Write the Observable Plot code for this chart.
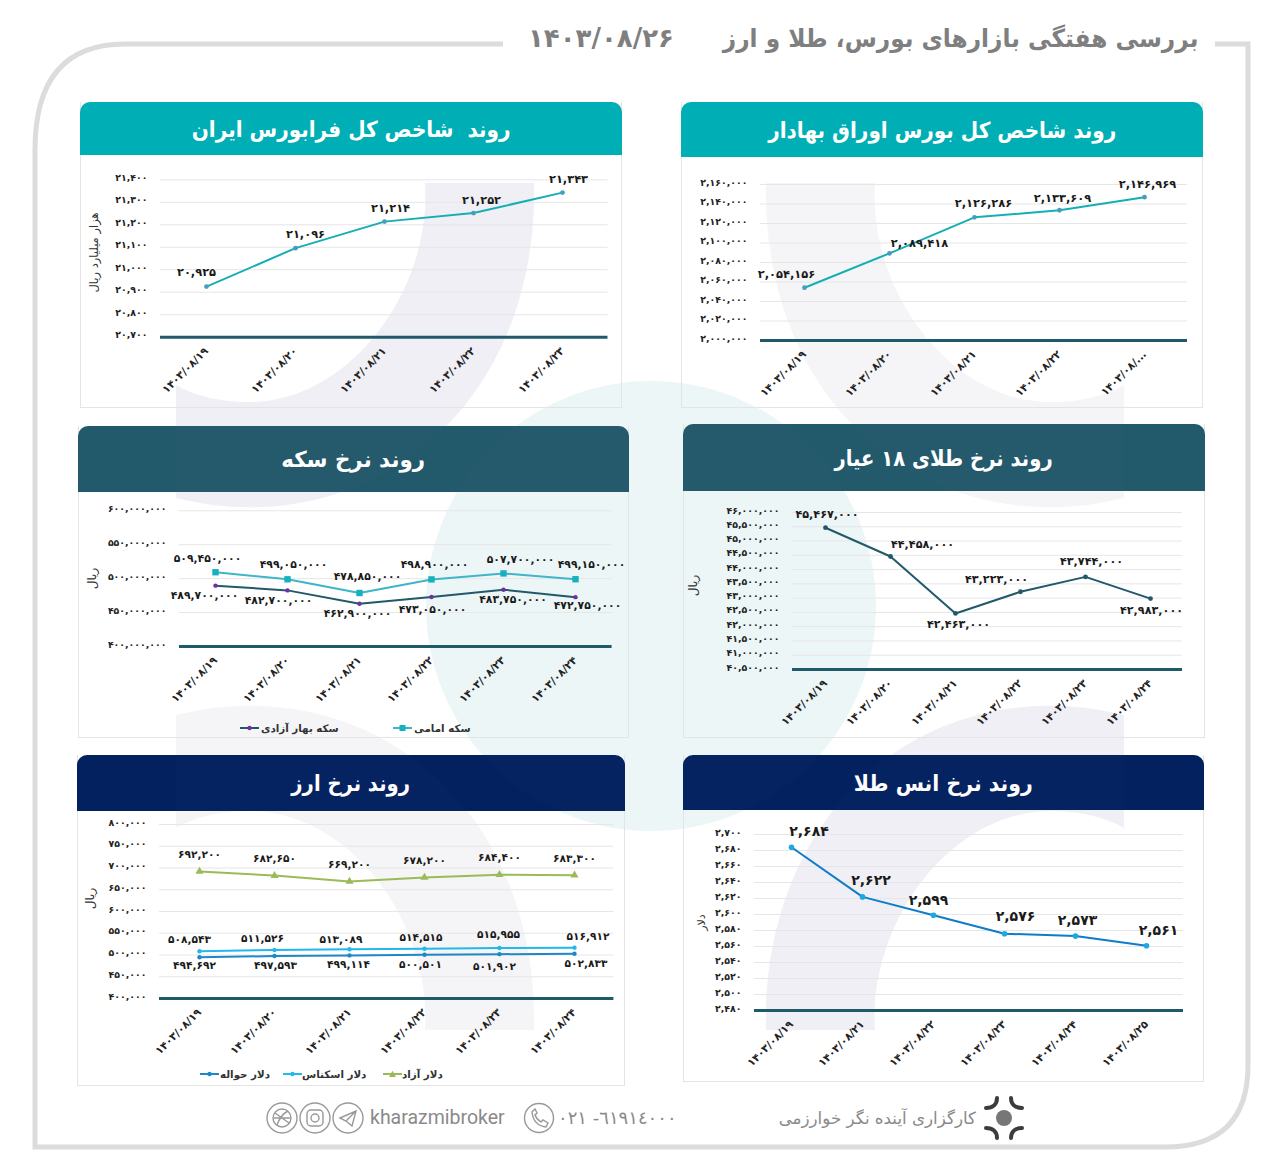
<!DOCTYPE html>
<html lang="fa">
<head>
<meta charset="utf-8">
<script src="https://cdn.jsdelivr.net/npm/d3@7"></script>
<script src="https://cdn.jsdelivr.net/npm/@observablehq/plot@0.6"></script>
<style>
  html,body{margin:0;padding:0;background:#fff;}
  #page{position:relative;width:1280px;height:1163px;overflow:hidden;background:#fff;font-family:"DejaVu Sans",sans-serif;}
  #page>*{position:absolute;}
  .head{color:#fff;text-align:center;border-radius:10px 10px 0 0;direction:rtl;white-space:pre;}
  .head span{display:inline-block;}
  .body{border:1px solid #e4e4e4;border-top:none;box-sizing:border-box;}
  .lg{font-size:10.3px;color:#333;direction:rtl;white-space:pre;}
  svg.plot{position:absolute;overflow:visible;}
</style>
</head>
<body>
<div id="page"></div>
<script>
// ---------- data ----------
const datesBourse = ["۱۴۰۳/۰۸/۱۹","۱۴۰۳/۰۸/۲۰","۱۴۰۳/۰۸/۲۱","۱۴۰۳/۰۸/۲۲","۱۴۰۳/۰۸/..."];
const datesFara   = ["۱۴۰۳/۰۸/۱۹","۱۴۰۳/۰۸/۲۰","۱۴۰۳/۰۸/۲۱","۱۴۰۳/۰۸/۲۲","۱۴۰۳/۰۸/۲۳"];
const datesSix    = ["۱۴۰۳/۰۸/۱۹","۱۴۰۳/۰۸/۲۰","۱۴۰۳/۰۸/۲۱","۱۴۰۳/۰۸/۲۲","۱۴۰۳/۰۸/۲۳","۱۴۰۳/۰۸/۲۴"];
const datesOunce  = ["۱۴۰۳/۰۸/۱۹","۱۴۰۳/۰۸/۲۱","۱۴۰۳/۰۸/۲۲","۱۴۰۳/۰۸/۲۳","۱۴۰۳/۰۸/۲۴","۱۴۰۳/۰۸/۲۵"];

const bourseIndex = [2054156, 2089418, 2126286, 2133609, 2146969];
const faraIndex   = [20925, 21096, 21214, 21252, 21343];
const coinEmami   = [509450000, 499050000, 478850000, 498900000, 507700000, 499150000];
const coinBahar   = [489700000, 482700000, 462900000, 473050000, 483750000, 472750000];
const gold18      = [45467000, 44458000, 42463000, 43223000, 43744000, 42983000];
const usdFree     = [692200, 682650, 669200, 678200, 684400, 683300];
const usdCash     = [508543, 511526, 513089, 514515, 515955, 516912];
const usdRemit    = [494692, 497593, 499114, 500501, 501902, 502833];
const goldOunce   = [2684, 2622, 2599, 2576, 2573, 2561];

const ticksBourse = [2000000,2020000,2040000,2060000,2080000,2100000,2120000,2140000,2160000];
const ticksFara   = [20700,20800,20900,21000,21100,21200,21300,21400];
const ticksCoin   = [400000000,450000000,500000000,550000000,600000000];
const ticksGold   = [40500000,41000000,41500000,42000000,42500000,43000000,43500000,44000000,44500000,45000000,45500000,46000000];
const ticksUsd    = [400000,450000,500000,550000,600000,650000,700000,750000,800000];
const ticksOunce  = [2480,2500,2520,2540,2560,2580,2600,2620,2640,2660,2680,2700];

const pageTitle = "بررسی هفتگی بازارهای بورس، طلا و ارز";
const pageDate  = "۱۴۰۳/۰۸/۲۶";

// ---------- helpers ----------
const FA = "۰۱۲۳۴۵۶۷۸۹";
const fa = s => String(s).replace(/\d/g, d => FA[+d]);
const num = v => fa(d3.format(",")(v));
const page = document.getElementById("page");
const el = (html) => { const t = document.createElement("template"); t.innerHTML = html.trim(); const n = t.content.firstChild; page.appendChild(n); return n; };

// ---------- background ----------
const crescent = "M425,183 C432,290 350,402 249,402 C220,402 195,396 176,385 L176,498 C210,506 235,508 262,507 C420,500 538,370 534,183 Z";
const shapes = (gray, gray2, teal, op) => `
  <circle cx="651" cy="606" r="225" fill="${teal}" opacity="${op}"/>
  <path d="${crescent}" fill="${gray}" opacity="${op}"/>
  <path d="${crescent}" fill="${gray2}" opacity="${op}" transform="translate(1300,0) scale(-1,1)"/>
  <path d="${crescent}" fill="${gray2}" opacity="${op}" transform="translate(0,1213) scale(1,-1)"/>
  <path d="${crescent}" fill="${gray}" opacity="${op}" transform="translate(1300,1213) scale(-1,-1)"/>`;
el(`<svg width="1280" height="1163" style="left:0;top:0">${shapes("#efeff5","#f5f5f7","#edf6f7",1)}
  <path d="M503,44 H125 Q35,44 35,150 V1147 H1165 Q1248,1147 1248,1065 V44 H1215" fill="none" stroke="#dcdcdc" stroke-width="5"/></svg>`);

el(`<div style="right:82px;top:24px;font-size:25px;color:#7f7f7f;direction:rtl;white-space:pre;font-weight:bold;transform:scaleX(.93);transform-origin:right center">${pageTitle}</div>`);
el(`<div style="left:528px;top:23px;font-size:26px;color:#7f7f7f;white-space:pre;font-weight:bold">${pageDate}</div>`);

// ---------- panels ----------
const TEAL = "#00aeb5", DARK = "#22596b", NAVY = "#03215f";

const panels = [
  { title:"روند شاخص کل بورس اوراق بهادار", head:TEAL, headSize:22, headScale:.91,
    x:681, y:102, w:522, h:306, headH:55, gridL:760, gridR:1187, yTop:184, yBot:340,
    dates:datesBourse, ticks:ticksBourse, tickSize:9.4, rotSize:10.6, lblSize:11.4,
    series:[{values:bourseIndex, color:"#14aeb5", dot:"#4a9bc0", r:2.4, symbol:"circle",
      off:[[-18,-13],[30,-10],[9,-14],[3,-12],[3,-13]]}] },
  { title:"روند  شاخص کل فرابورس ایران", head:TEAL, headSize:22, headScale:.91,
    x:80, y:102, w:542, h:306, headH:53, gridL:160, gridR:607.5, yTop:179.3, yBot:336.7,
    dates:datesFara, ticks:ticksFara, tickSize:9.4, rotSize:10.6, lblSize:11.4,
    ylabel:"هزار میلیارد ریال", ylabelX:94, ylabelY:252, ylabelSize:11.5,
    series:[{values:faraIndex, color:"#14aeb5", dot:"#4a9bc0", r:2.4, symbol:"circle",
      off:[[-10,-14],[10,-14],[6,-13],[8,-13],[6,-13]]}] },
  { title:"روند نرخ سکه", head:DARK, headSize:22, headScale:.97,
    x:78, y:426, w:551, h:312, headH:66, gridL:179, gridR:611.6, yTop:510.3, yBot:646,
    dates:datesSix, ticks:ticksCoin, tickSize:9.4, rotSize:10.6, lblSize:10.8,
    ylabel:"ریال", ylabelX:91.6, ylabelY:578, ylabelSize:12,
    series:[
      {values:coinEmami, color:"#3fb5c9", dot:"#17b0bf", r:3.6, symbol:"square",
       off:[[-8,-14],[6,-15],[8,-16],[3,-15],[17,-14],[16,-15]]},
      {values:coinBahar, color:"#21596b", dot:"#7030a0", r:2.2, symbol:"circle",
       off:[[-11,10],[-9,10],[-2,9.5],[1,13],[9.5,10],[12,8]]}
    ] },
  { title:"روند نرخ طلای ۱۸ عیار", head:DARK, headSize:22, headScale:.89,
    x:683, y:424, w:522, h:314, headH:67, gridL:792, gridR:1182, yTop:512, yBot:669,
    dates:datesSix, ticks:ticksGold, tickSize:9.4, rotSize:10.6, lblSize:11.2,
    ylabel:"ریال", ylabelX:693, ylabelY:585, ylabelSize:12,
    series:[{values:gold18, color:"#21596b", dot:"#21596b", r:2.4, symbol:"circle",
      off:[[1.5,-13],[32,-12],[3,11],[-24,-12],[6,-15.5],[1,12]]}] },
  { title:"روند نرخ ارز", head:NAVY, headSize:22, headScale:.89,
    x:77, y:755, w:548, h:331, headH:56, gridL:159, gridR:613.4, yTop:824, yBot:998,
    dates:datesSix, ticks:ticksUsd, tickSize:9.4, rotSize:10.6, lblSize:10.6,
    ylabel:"ریال", ylabelX:90, ylabelY:898, ylabelSize:12,
    series:[
      {values:usdFree, color:"#9bbb59", dot:"#9bbb59", r:3, symbol:"triangle",
       off:[[0,-17],[0,-17],[0,-17],[0,-17],[0,-17],[0,-17]]},
      {values:usdCash, color:"#22b8ec", dot:"#22b8ec", r:2.2, symbol:"circle",
       off:[[-10,-12],[-12,-11],[-8.5,-10],[-3.5,-11],[-1,-13.5],[13.5,-11]]},
      {values:usdRemit, color:"#1e88c7", dot:"#1e88c7", r:2.2, symbol:"circle",
       off:[[-5,8],[1,9.5],[-1,9],[-4,10],[-5,12],[11.5,10]]}
    ] },
  { title:"روند نرخ انس طلا", head:NAVY, headSize:22, headScale:.93,
    x:683, y:755, w:521, h:327, headH:55, gridL:754, gridR:1183, yTop:834, yBot:1010,
    dates:datesOunce, ticks:ticksOunce, tickSize:9.4, rotSize:10.6, lblSize:14,
    ylabel:"دلار", ylabelX:701, ylabelY:922, ylabelSize:11,
    series:[{values:goldOunce, color:"#0e7cc8", dot:"#1ca9e0", r:2.8, symbol:"circle",
      off:[[17.5,-16],[8.5,-16],[-5,-15],[11,-17],[2,-16],[12,-15]]}] }
];

const legends = [
  { y:728, items:[
    {label:"سکه بهار آزادی", sx:240, tx:261, color:"#21596b", dot:"#7030a0", sym:"circle"},
    {label:"سکه امامی", sx:393, tx:414, color:"#3fb5c9", dot:"#17b0bf", sym:"square"}]},
  { y:1074, items:[
    {label:"دلار حواله", sx:200, tx:220, color:"#1e88c7", dot:"#1e88c7", sym:"circle"},
    {label:"دلار اسکناس", sx:283, tx:302, color:"#22b8ec", dot:"#22b8ec", sym:"circle"},
    {label:"دلار آزاد", sx:383, tx:402, color:"#9bbb59", dot:"#9bbb59", sym:"triangle"}]}
];

// panel boxes and headers first, so the faint overlay sits on the headers
for (const p of panels) {
  el(`<div class="body" style="left:${p.x}px;top:${p.y}px;width:${p.w}px;height:${p.h}px"></div>`);
  el(`<div class="head" style="left:${p.x}px;top:${p.y}px;width:${p.w}px;height:${p.headH}px;background:${p.head};font-size:${p.headSize}px;line-height:${p.headH+2}px;font-weight:bold"><span style="transform:scaleX(${p.headScale})">${p.title}</span></div>`);
}
el(`<svg width="1280" height="1163" style="left:0;top:0;pointer-events:none">${shapes("#fff","#fff","#fff",0.012)}</svg>`);

for (const p of panels) {
  const top = p.y + p.headH, height = p.h - p.headH;
  const marks = [
    Plot.ruleY(p.ticks.slice(1), {stroke:"#e6e6e6", strokeWidth:1}),
    Plot.ruleY([p.ticks[0]], {stroke:"#1f5a6b", strokeWidth:3}),
    Plot.axisY(p.ticks, {tickSize:0, tickPadding:13, tickFormat:num, fontSize:p.tickSize, dy:-2, label:null, fill:"#222"}),
    Plot.axisX(p.dates, {tickSize:0, tickPadding:12, tickRotate:-45, fontSize:p.rotSize, label:null, fill:"#222"})
  ];
  if (p.ylabel) {
    const midY = (p.yTop + p.yBot)/2;
    marks.push(Plot.text([p.ylabel], {frameAnchor:"left", rotate:-90, dx:p.ylabelX-p.gridL, dy:p.ylabelY-midY, fontSize:p.ylabelSize, fontWeight:"normal", fill:"#333", textAnchor:"middle"}));
  }
  for (const s of p.series) {
    const rows = s.values.map((v,i)=>({d:p.dates[i], v}));
    marks.push(Plot.line(rows, {x:"d", y:"v", stroke:s.color, strokeWidth:2}));
    marks.push(Plot.dot(rows, {x:"d", y:"v", fill:s.dot, r:s.r, symbol:s.symbol}));
    rows.forEach((row,i)=>{
      marks.push(Plot.text([row], {x:"d", y:"v", text:d=>num(d.v), dx:s.off[i][0], dy:s.off[i][1], fontSize:p.lblSize, fill:"#1a1a1a"}));
    });
  }
  const svg = Plot.plot({
    width:p.w, height,
    marginLeft:p.gridL-p.x, marginRight:p.x+p.w-p.gridR,
    marginTop:p.yTop-top, marginBottom:top+height-p.yBot,
    x:{type:"point", domain:p.dates},
    y:{domain:[p.ticks[0], p.ticks[p.ticks.length-1]]},
    style:{background:"transparent", fontFamily:"'DejaVu Sans',sans-serif", fontWeight:"bold", overflow:"visible"},
    marks
  });
  svg.style.left = p.x+"px"; svg.style.top = top+"px"; svg.style.position="absolute";
  page.appendChild(svg);
}

// legends
const symbolSvg = (sym,c) => sym==="square" ? `<rect x="6.5" y="1" width="6" height="6" fill="${c}"/>`
  : sym==="triangle" ? `<path d="M9.5,0.8 L13,7 H6 Z" fill="${c}"/>` : `<circle cx="9.5" cy="4" r="2.2" fill="${c}"/>`;
for (const lg of legends) for (const it of lg.items) {
  el(`<svg width="19" height="8" style="left:${it.sx}px;top:${lg.y-4}px"><line x1="0" x2="19" y1="4" y2="4" stroke="${it.color}" stroke-width="2"/>${symbolSvg(it.sym,it.dot)}</svg>`);
  el(`<div class="lg" style="left:${it.tx}px;top:${lg.y-8}px;line-height:16px;font-weight:bold">${it.label}</div>`);
}

// footer
el(`<div style="left:775px;top:1108px;font-size:16.7px;color:#8a8a8a;direction:rtl;white-space:pre;width:201px;text-align:right">کارگزاری آینده نگر خوارزمی</div>`);
el(`<svg width="44" height="44" style="left:983px;top:1096px" viewBox="0 0 44 44" fill="none" stroke="#3c3c3c" stroke-width="4" stroke-linecap="round">
  <circle cx="21" cy="22" r="8" fill="#777" stroke="none"/>
  <path d="M14,2 C14,8 10,12 3,12"/><path d="M28,2 C28,8 32,12 39,12"/>
  <path d="M14,42 C14,36 10,32 3,32"/><path d="M28,42 C28,36 32,32 39,32"/></svg>`);
el(`<div style="left:558px;top:1107px;font-size:18px;color:#8a8a8a;white-space:pre;direction:ltr;unicode-bidi:bidi-override;letter-spacing:3.9px">٠٢١ -٦١٩١٤٠٠٠</div>`);
el(`<svg width="32" height="32" style="left:523px;top:1102px" fill="none" stroke="#999" stroke-width="1.4">
  <circle cx="16" cy="16" r="14.5"/><path d="M9,10 C10,19 15,24 23,25 L25,21 L20,18 L18,20 C15,18 13,16 12,13 L14,11 L12,7 Z"/></svg>`);
el(`<div style="left:370px;top:1106px;font-family:Roboto,sans-serif;font-size:19.5px;color:#8a8a8a;white-space:pre">kharazmibroker</div>`);
el(`<svg width="100" height="34" style="left:265px;top:1101px" fill="none" stroke="#999" stroke-width="1.4">
  <circle cx="17" cy="17" r="15"/><circle cx="17" cy="17" r="9"/><path d="M10,12 L24,22 M12,24 C15,16 19,12 23,10 M9,17 H25"/>
  <circle cx="50" cy="17" r="15"/><rect x="42" y="9" width="16" height="16" rx="4"/><circle cx="50" cy="17" r="4"/>
  <circle cx="83" cy="17" r="15"/><path d="M75,17 L91,10 L87,25 L81,20 Z M81,20 L91,10"/></svg>`);
</script>
</body>
</html>
